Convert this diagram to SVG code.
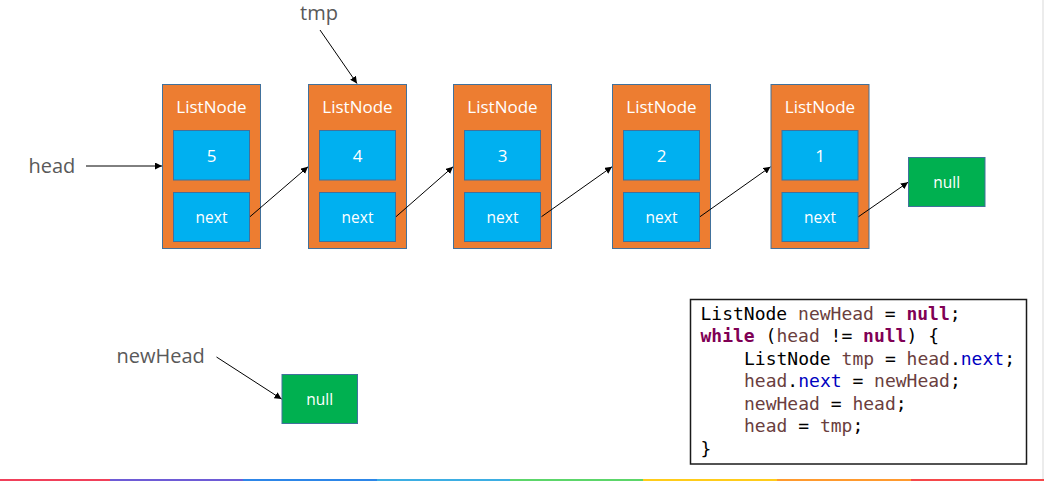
<svg xmlns="http://www.w3.org/2000/svg" width="1044" height="481" viewBox="0 0 1044 481">
  <style>
    .node { fill: #ED7D31; stroke: #41719C; stroke-width: 1; }
    .field { fill: #00B0F0; stroke: #41719C; stroke-width: 1; }
    .nil { fill: #00B050; stroke: #41719C; stroke-width: 1; }
    .title { font-family: "Open Sans", "Noto Sans", sans-serif; font-size: 17px; fill: #FFFFFF; text-anchor: middle; }
    .val { font-family: "Open Sans", "Noto Sans", sans-serif; font-size: 17px; fill: #FFFFFF; text-anchor: middle; }
    .small { font-family: "Open Sans", "Noto Sans", sans-serif; font-size: 15.5px; fill: #FFFFFF; text-anchor: middle; }
    .label { font-family: "Open Sans", "Noto Sans", sans-serif; font-size: 20px; fill: #595959; }
    .link { stroke: #000000; stroke-width: 1; fill: none; marker-end: url(#arrow); }
    .code { font-family: "DejaVu Sans Mono", "Liberation Mono", monospace; font-size: 18px; fill: #000000; white-space: pre; }
    .kw { fill: #7F0055; font-weight: bold; }
    .var { fill: #6A3E3E; }
    .fld { fill: #0000C0; }
  </style>
  <defs>
    <marker id="arrow" viewBox="0 0 10 10" refX="10" refY="5" markerWidth="7" markerHeight="7" markerUnits="userSpaceOnUse" orient="auto">
      <path d="M0,0 L10,5 L0,10 z" fill="#000000"/>
    </marker>
  </defs>

  <rect x="0" y="0" width="1044" height="481" fill="#FFFFFF"/>

  <!-- list nodes -->
  <g id="node5">
    <rect class="node" x="162.5" y="84.5" width="98" height="164"/>
    <text class="title" x="211.5" y="113">ListNode</text>
    <rect class="field" x="173.5" y="130.5" width="76" height="49.5"/>
    <text class="val" x="211.5" y="162">5</text>
    <rect class="field" x="173.5" y="192.5" width="76" height="49"/>
    <text class="small" x="211.5" y="222.5">next</text>
  </g>
  <g id="node4">
    <rect class="node" x="308.5" y="84.5" width="98" height="164"/>
    <text class="title" x="357.5" y="113">ListNode</text>
    <rect class="field" x="319.5" y="130.5" width="76" height="49.5"/>
    <text class="val" x="357.5" y="162">4</text>
    <rect class="field" x="319.5" y="192.5" width="76" height="49"/>
    <text class="small" x="357.5" y="222.5">next</text>
  </g>
  <g id="node3">
    <rect class="node" x="453.5" y="84.5" width="98" height="164"/>
    <text class="title" x="502.5" y="113">ListNode</text>
    <rect class="field" x="464.5" y="130.5" width="76" height="49.5"/>
    <text class="val" x="502.5" y="162">3</text>
    <rect class="field" x="464.5" y="192.5" width="76" height="49"/>
    <text class="small" x="502.5" y="222.5">next</text>
  </g>
  <g id="node2">
    <rect class="node" x="612.5" y="84.5" width="98" height="164"/>
    <text class="title" x="661.5" y="113">ListNode</text>
    <rect class="field" x="623.5" y="130.5" width="76" height="49.5"/>
    <text class="val" x="661.5" y="162">2</text>
    <rect class="field" x="623.5" y="192.5" width="76" height="49"/>
    <text class="small" x="661.5" y="222.5">next</text>
  </g>
  <g id="node1">
    <rect class="node" x="771" y="84.5" width="98" height="164"/>
    <text class="title" x="820" y="113">ListNode</text>
    <rect class="field" x="782" y="130.5" width="76" height="49.5"/>
    <text class="val" x="820" y="162">1</text>
    <rect class="field" x="782" y="192.5" width="76" height="49"/>
    <text class="small" x="820" y="222.5">next</text>
  </g>
  <g id="tail-null">
    <rect class="nil" x="908.5" y="157.5" width="76.5" height="49"/>
    <text class="small" x="946.7" y="188">null</text>
  </g>
  <g id="new-null">
    <rect class="nil" x="282" y="374.5" width="75.5" height="49"/>
    <text class="small" x="319.7" y="405">null</text>
  </g>

  <!-- pointer labels -->
  <g id="head-label">
    <text class="label" x="28.5" y="172.5">head</text>
  </g>
  <g id="tmp-label">
    <text class="label" x="300" y="19.5">tmp</text>
  </g>
  <g id="newhead-label">
    <text class="label" x="116.5" y="363">newHead</text>
  </g>

  <!-- connectors -->
  <g id="connectors">
    <line class="link" x1="86" y1="166" x2="162" y2="166"/>
    <line class="link" x1="320" y1="30" x2="357" y2="83.5"/>
    <line class="link" x1="216.5" y1="357" x2="281.5" y2="399"/>
    <line class="link" x1="250" y1="216.7" x2="308" y2="166.8"/>
    <line class="link" x1="396" y1="216.7" x2="453" y2="166.8"/>
    <line class="link" x1="541.5" y1="216.7" x2="612" y2="166.8"/>
    <line class="link" x1="700" y1="216.7" x2="770.5" y2="166.8"/>
    <line class="link" x1="858.5" y1="216.7" x2="908" y2="182.3"/>
  </g>

  <!-- reversal code -->
  <g id="code">
    <rect x="690.5" y="299.5" width="336" height="164.5" fill="#FFFFFF" stroke="#1A1A1A" stroke-width="1.5"/>
    <text class="code" x="700.5" y="319.5">ListNode <tspan class="var">newHead</tspan> = <tspan class="kw">null</tspan>;</text>
    <text class="code" x="700.5" y="342"><tspan class="kw">while</tspan> (<tspan class="var">head</tspan> != <tspan class="kw">null</tspan>) {</text>
    <text class="code" x="744" y="364.5">ListNode <tspan class="var">tmp</tspan> = <tspan class="var">head</tspan>.<tspan class="fld">next</tspan>;</text>
    <text class="code" x="744" y="387"><tspan class="var">head</tspan>.<tspan class="fld">next</tspan> = <tspan class="var">newHead</tspan>;</text>
    <text class="code" x="744" y="409.5"><tspan class="var">newHead</tspan> = <tspan class="var">head</tspan>;</text>
    <text class="code" x="744" y="432"><tspan class="var">head</tspan> = <tspan class="var">tmp</tspan>;</text>
    <text class="code" x="700.5" y="454.5">}</text>
  </g>

  <!-- page edge and colour band -->
  <line x1="1043" y1="0" x2="1043" y2="481" stroke="#D9D9D9" stroke-width="1"/>
  <g id="band">
    <rect x="0" y="479" width="110" height="2" fill="#F0405A"/>
    <rect x="110" y="479" width="133" height="2" fill="#6E5BD6"/>
    <rect x="243" y="479" width="134" height="2" fill="#2D86E8"/>
    <rect x="377" y="479" width="133" height="2" fill="#3DAEE3"/>
    <rect x="510" y="479" width="133" height="2" fill="#5CD66A"/>
    <rect x="643" y="479" width="134" height="2" fill="#FFCC1A"/>
    <rect x="777" y="479" width="134" height="2" fill="#FF9A2E"/>
    <rect x="911" y="479" width="133" height="2" fill="#F5484A"/>
  </g>
</svg>
